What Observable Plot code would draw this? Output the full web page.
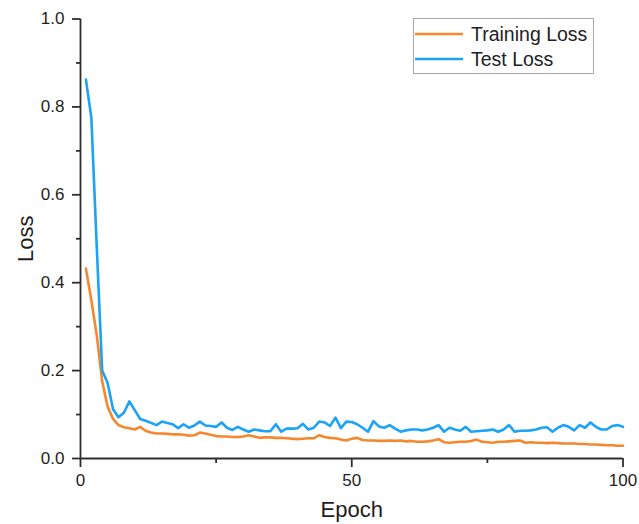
<!DOCTYPE html>
<html>
<head>
<meta charset="utf-8">
<script src="https://cdn.jsdelivr.net/npm/d3@7"></script>
<script src="https://cdn.jsdelivr.net/npm/@observablehq/plot@0.6"></script>
<style>
  body { margin: 0; background: #fff; }
  #wrap { position: relative; width: 639px; height: 524px; font-family: "Liberation Sans", Arial, sans-serif; }
  #legend { position: absolute; left: 413px; top: 18px; width: 181px; height: 56px; border: 1px solid #a8a8a8; background: #fff; box-sizing: border-box; }
  .row { position: absolute; left: 1px; height: 24px; display: flex; align-items: center; font-size: 19.5px; color: #222; white-space: nowrap; }
  .row svg { margin-right: 8px; }
</style>
</head>
<body>
<div id="wrap"><div id="legend"></div></div>
<script>
const seriesNames = ["Training Loss", "Test Loss"];
const seriesColors = ["#F5872E", "#1AA3F7"];
const xTicks = [0, 50, 100];
const xMinorTicks = [25, 75];
const yTicks = [0, 0.2, 0.4, 0.6, 0.8, 1.0];
const yMinorTicks = [0.1, 0.3, 0.5, 0.7, 0.9];
const xLabel = "Epoch";
const yLabel = "Loss";

const trainingLoss = [
  0.432, 0.360, 0.280, 0.175, 0.118, 0.090, 0.076, 0.071, 0.069, 0.066,
  0.072, 0.063, 0.059, 0.057, 0.057, 0.056, 0.055, 0.055, 0.054, 0.052,
  0.053, 0.059, 0.057, 0.054, 0.051, 0.050, 0.050, 0.049, 0.049, 0.050,
  0.053, 0.050, 0.047, 0.048, 0.048, 0.047, 0.047, 0.046, 0.045, 0.044,
  0.045, 0.046, 0.046, 0.053, 0.049, 0.047, 0.046, 0.043, 0.041, 0.045,
  0.047, 0.042, 0.041, 0.041, 0.040, 0.040, 0.041, 0.040, 0.041, 0.039,
  0.040, 0.038, 0.038, 0.039, 0.041, 0.044, 0.037, 0.036, 0.037, 0.038,
  0.038, 0.040, 0.043, 0.038, 0.037, 0.036, 0.038, 0.038, 0.039, 0.040,
  0.041, 0.036, 0.037, 0.036, 0.036, 0.035, 0.036, 0.035, 0.034, 0.034,
  0.034, 0.033, 0.033, 0.032, 0.032, 0.031, 0.030, 0.030, 0.029, 0.029
];
const testLoss = [
  0.862, 0.775, 0.480, 0.200, 0.172, 0.112, 0.094, 0.104, 0.130, 0.110,
  0.090, 0.086, 0.081, 0.076, 0.084, 0.081, 0.078, 0.069, 0.078, 0.070,
  0.075, 0.084, 0.075, 0.074, 0.072, 0.082, 0.070, 0.065, 0.072, 0.066,
  0.061, 0.066, 0.064, 0.062, 0.062, 0.078, 0.061, 0.068, 0.068, 0.069,
  0.079, 0.066, 0.070, 0.084, 0.082, 0.074, 0.093, 0.069, 0.084, 0.083,
  0.078, 0.070, 0.061, 0.085, 0.073, 0.070, 0.076, 0.068, 0.061, 0.064,
  0.066, 0.066, 0.064, 0.066, 0.070, 0.076, 0.061, 0.070, 0.066, 0.063,
  0.072, 0.061, 0.062, 0.063, 0.064, 0.066, 0.061, 0.066, 0.076, 0.061,
  0.063, 0.063, 0.064, 0.066, 0.070, 0.071, 0.061, 0.070, 0.076, 0.072,
  0.064, 0.076, 0.070, 0.082, 0.072, 0.066, 0.066, 0.074, 0.076, 0.072
];

const rows = [];
[trainingLoss, testLoss].forEach((arr, s) => {
  arr.forEach((v, i) => rows.push({epoch: i + 1, loss: v, series: seriesNames[s]}));
});

const axisColor = "#2e2e2e";
const chart = Plot.plot({
  width: 639,
  height: 524,
  marginLeft: 80,
  marginRight: 16.5,
  marginTop: 18.5,
  marginBottom: 66,
  style: {fontFamily: "'Liberation Sans', Arial, sans-serif", fontSize: "17px", color: "#1e1e1e", background: "#fff"},
  x: {domain: [0, 100]},
  y: {domain: [0, 1]},
  color: {domain: seriesNames, range: seriesColors},
  marks: [
    Plot.lineY(rows, {x: "epoch", y: "loss", stroke: "series", z: "series", strokeWidth: 2.6, strokeLinejoin: "round"}),
    Plot.ruleY([0], {stroke: axisColor, strokeWidth: 1.8}),
    Plot.ruleX([0], {stroke: axisColor, strokeWidth: 1.8}),
    Plot.axisX({ticks: xTicks, tickSize: 9, tickPadding: 6, stroke: axisColor, strokeWidth: 1.8,
      label: xLabel, labelAnchor: "center", labelArrow: "none", labelOffset: 58, fontSize: 17}),
    Plot.axisX({ticks: xMinorTicks, tickSize: 5, text: null, label: null, stroke: axisColor, strokeWidth: 1.8}),
    Plot.axisY({ticks: yTicks, tickSize: 8, tickPadding: 8, tickFormat: d3.format(".1f"), stroke: axisColor, strokeWidth: 1.8,
      label: yLabel, labelAnchor: "center", labelArrow: "none", labelOffset: 63, fontSize: 17}),
    Plot.axisY({ticks: yMinorTicks, tickSize: 4, text: null, label: null, stroke: axisColor, strokeWidth: 1.8})
  ]
});
d3.select(chart).selectAll("g[aria-label='x-axis label'] text, g[aria-label='y-axis label'] text").style("font-size", "22px");
document.getElementById("wrap").prepend(chart);

const legend = document.getElementById("legend");
seriesNames.forEach((name, i) => {
  const row = document.createElement("div");
  row.className = "row";
  row.style.top = (3 + i * 25) + "px";
  row.innerHTML = `<svg width="48" height="6"><line x1="0" x2="48" y1="3" y2="3" stroke="${seriesColors[i]}" stroke-width="2.6"/></svg><span>${name}</span>`;
  legend.appendChild(row);
});
</script>
</body>
</html>
